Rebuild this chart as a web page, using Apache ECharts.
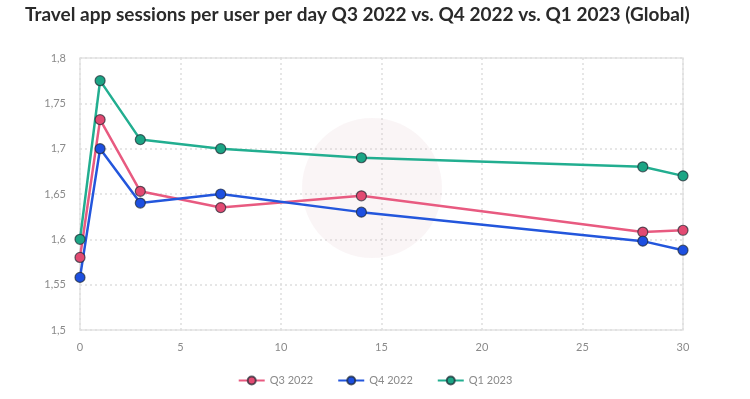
<!DOCTYPE html>
<html>
<head>
<meta charset="utf-8">
<script src="https://cdn.jsdelivr.net/npm/echarts@6/dist/echarts.min.js"></script>
<style>
html, body { margin: 0; padding: 0; background: #fff; }
#chart { width: 750px; height: 399px; }
</style>
</head>
<body>
<div id="chart"></div>
<script>
// days since install
var days = [0, 1, 3, 7, 14, 28, 30];
var q3_2022 = [1.58, 1.732, 1.653, 1.635, 1.648, 1.608, 1.61];
var q4_2022 = [1.558, 1.70, 1.64, 1.65, 1.63, 1.598, 1.588];
var q1_2023 = [1.60, 1.775, 1.71, 1.70, 1.69, 1.68, 1.67];
var strayPoint = [[1, 1.70]];

function pairs(ys) {
    return days.map(function (d, i) { return [d, ys[i]]; });
}
function comma(v) {
    return String(+v.toFixed(2)).replace('.', ',');
}

var dom = document.getElementById('chart');
var myChart = echarts.init(dom);

function lineSeries(name, ys, lineColor, dotColor) {
    return {
        name: name,
        type: 'line',
        data: pairs(ys),
        symbol: 'circle',
        symbolSize: 10,
        z: 3,
        lineStyle: { color: lineColor, width: 2.5 },
        itemStyle: { color: dotColor, borderColor: 'rgba(30,40,50,0.7)', borderWidth: 1.2 }
    };
}

var option = {
    backgroundColor: '#fff',
    animation: false,
    title: {
        text: 'Travel app sessions per user per day Q3 2022 vs. Q4 2022 vs. Q1 2023 (Global)',
        left: 20,
        top: 0,
        textStyle: { fontFamily: 'Lato', fontWeight: 'bold', fontSize: 19, color: '#2a2a2a' }
    },
    graphic: [{
        type: 'circle',
        shape: { cx: 372, cy: 188, r: 70 },
        style: { fill: 'rgba(225,190,200,0.16)' },
        z: 1,
        silent: true
    }],
    legend: {
        bottom: 8,
        left: 'center',
        itemWidth: 26,
        itemHeight: 10,
        itemGap: 24,
        textStyle: { color: '#8a8a8a', fontSize: 11, fontFamily: 'Lato' },
        data: ['Q3 2022', 'Q4 2022', 'Q1 2023']
    },
    grid: {
        left: 80,
        right: 67,
        top: 58,
        bottom: 69,
        show: true,
        borderColor: '#e4e4e4',
        borderWidth: 1.5
    },
    xAxis: {
        type: 'value',
        min: 0,
        max: 30,
        interval: 5,
        axisLine: { show: false },
        axisTick: { show: false },
        axisLabel: { color: '#8a8a8a', fontSize: 11, fontFamily: 'Lato', margin: 12 },
        splitLine: { lineStyle: { color: '#dedede', type: [2, 3], width: 1.5 } }
    },
    yAxis: {
        type: 'value',
        min: 1.5,
        max: 1.8,
        interval: 0.05,
        axisLine: { show: false },
        axisTick: { show: false },
        axisLabel: { color: '#8a8a8a', fontSize: 11, fontFamily: 'Lato', margin: 14, formatter: comma },
        splitLine: { lineStyle: { color: '#dedede', type: [2, 3], width: 1.5 } }
    },
    series: [
        lineSeries('Q3 2022', q3_2022, '#e85a80', '#e24a72'),
        lineSeries('Q4 2022', q4_2022, '#2356dc', '#1d4fe0'),
        lineSeries('Q1 2023', q1_2023, '#22ae90', '#1ca585'),
        {
            name: 'stray',
            type: 'scatter',
            data: strayPoint,
            symbol: 'circle',
            symbolSize: 5,
            z: 2,
            itemStyle: { color: '#f0a050' }
        }
    ]
};

if (option && typeof option === "object") {
    myChart.setOption(option, true);
}
</script>
</body>
</html>
